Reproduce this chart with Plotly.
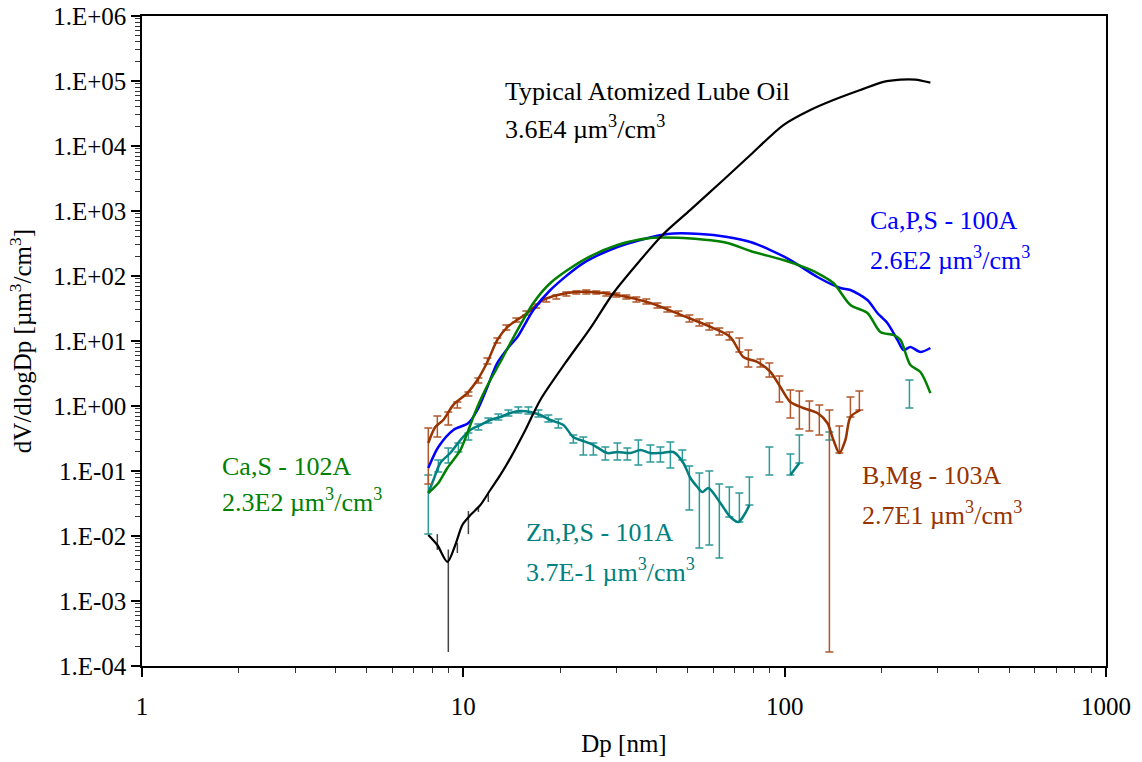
import math
import plotly.graph_objects as go

# ---- Typical atomized lube oil (black) ----
oil_dp = [7.78, 8.30, 8.92, 9.44, 9.93, 10.52, 11.30, 12.13, 13.04, 14.01, 15.60, 17.36,
          20.77, 24.85, 29.31, 35.56, 41.94, 50.88, 64.42, 78.22, 99.08, 120.2, 141.8,
          172.0, 202.9, 229.2, 255.2, 284.1]
oil_dv = [0.0104, 0.00727, 0.0040, 0.00727, 0.0148, 0.0210, 0.030, 0.051, 0.087, 0.158,
          0.428, 1.24, 4.59, 15.8, 54.8, 176, 443, 1040, 3000, 7270, 21000, 35800, 51000,
          72700, 97000, 105000, 105000, 94200]
oil_err_dp = [8.30, 8.98, 9.58, 10.37, 11.14, 11.96]
oil_err_hi = [0.0107, 0.0062, 0.0078, 0.0242, 0.0279, 0.0459]
oil_err_lo = [0.0061, 0.000164, 0.00548, 0.0107, 0.0234, 0.0334]

# ---- Ca,P,S - 100A (blue) ----
cps_dp = [7.78, 8.36, 9.31, 10.37, 11.06, 11.88, 12.76, 14.01, 14.73, 16.52, 18.66, 23.63,
          30.16, 35.56, 43.15, 54.66, 66.33, 78.22, 90.27, 104.2, 126.4, 149.1, 160.2,
          180.9, 194.3, 208.7, 224.3, 234.2, 246.2, 264.5, 284.1]
cps_dv = [0.111, 0.234, 0.428, 0.548, 0.868, 1.96, 4.59, 8.68, 11.5, 30.0, 60.9, 158,
          279, 358, 443, 443, 398, 334, 251, 176, 96.6, 65.3, 60.9, 42.8, 27.0, 18.9,
          10.4, 7.27, 8.09, 6.77, 7.80]

# ---- Ca,S - 102A (green) ----
cs_dp = [7.78, 8.36, 8.92, 9.79, 10.29, 10.74, 11.30, 12.13, 13.04, 14.01, 16.52, 18.66,
         23.63, 30.16, 38.20, 48.39, 57.47, 66.33, 78.22, 99.08, 114.3, 126.4, 141.8,
         160.2, 180.9, 198.5, 217.9, 229.2, 246.2, 264.5, 284.1]
cs_dv = [0.0459, 0.0654, 0.111, 0.210, 0.384, 0.677, 1.24, 2.51, 4.75, 9.32, 38.4, 78.0,
         176, 300, 384, 384, 358, 322, 243, 176, 138, 111, 78.0, 35.8, 27.0, 13.8, 12.4,
         10.4, 4.27, 3.34, 1.58]

# ---- B,Mg - 103A (brown) ----
bmg_dp = [7.78, 8.18, 8.66, 9.31, 10.29, 11.06, 11.88, 12.76, 13.71, 15.83, 17.75, 21.07,
          24.85, 30.16, 38.20, 48.39, 59.98, 67.77, 74.39, 82.25, 90.27, 96.96, 104.2,
          114.3, 126.4, 135.8, 141.8, 148.0, 154.5, 160.2, 172.0]
bmg_dv = [0.270, 0.475, 0.609, 1.04, 1.58, 2.51, 4.75, 10.4, 16.4, 27.0, 42.8, 54.8, 56.8,
          51.0, 38.4, 24.3, 15.8, 11.5, 5.67, 4.75, 3.34, 1.96, 1.15, 0.932, 0.780, 0.548,
          0.300, 0.189, 0.300, 0.677, 0.868]
bmg_err_dp = [7.78, 8.30, 8.98, 9.58, 10.37, 11.14, 11.88, 12.76, 13.61, 14.62, 15.71,
              16.87, 18.13, 19.47, 20.92, 22.47, 24.14, 25.93, 27.86, 29.94, 32.16, 34.55,
              37.12, 40.17, 43.15, 46.69, 50.52, 54.27, 58.29, 62.62, 67.28, 72.28, 77.10,
              84.03, 89.62, 96.28, 104.2, 111.1, 119.4, 128.2, 137.8, 148.0, 160.2, 170.8]
bmg_err_hi = [0.459, 0.702, 0.809, 1.15, 1.64, 2.70, 5.48, 11.1, 17.6, 22.6, 28.9, 37.1,
              45.9, 51.0, 56.7, 58.8, 60.9, 58.8, 56.7, 54.8, 51.0, 47.5, 44.3, 38.4, 33.4,
              28.9, 25.1, 21.8, 18.9, 15.8, 13.8, 11.1, 7.27, 5.28, 4.59, 2.89, 1.76, 1.70,
              1.19, 1.04, 0.868, 0.493, 1.38, 1.70]
bmg_err_lo = [0.0631, 0.334, 0.510, 0.932, 1.42, 2.26, 4.43, 9.32, 14.8, 19.6, 25.1, 32.2,
              39.8, 44.3, 49.2, 52.9, 52.9, 52.9, 49.2, 47.5, 44.3, 39.8, 37.1, 32.2, 27.9,
              24.3, 19.6, 17.0, 14.8, 12.4, 10.4, 6.77, 3.98, 3.98, 2.79, 1.15, 0.654, 0.443,
              0.413, 0.358, 0.000164, 0.189, 0.677, 0.868]

# ---- Zn,P,S - 101A (teal) ----
zn_dp = [7.78, 8.07, 8.48, 9.11, 9.79, 10.52, 11.30, 12.13, 13.04, 14.01, 15.05, 16.17,
         17.36, 18.66, 20.48, 22.00, 23.13, 25.39, 28.07, 30.16, 33.10, 35.56, 38.20, 41.05,
         45.04, 48.39, 50.88, 53.50, 55.45, 57.88, 63.08, 67.77, 71.77, 75.46, 77.66,
         None, 104.2, 111.1]
zn_dv = [0.0459, 0.0727, 0.133, 0.189, 0.300, 0.428, 0.510, 0.609, 0.677, 0.780, 0.838,
         0.809, 0.727, 0.609, 0.510, 0.330, 0.300, 0.251, 0.189, 0.196, 0.189, 0.210, 0.189,
         0.189, 0.196, 0.133, 0.078, 0.0568, 0.0475, 0.0548, 0.0322, 0.0196, 0.0164,
         0.0226, 0.0300, None, 0.0868, 0.133]
zn_err_dp = [7.78, 8.36, 8.98, 9.65, 10.37, 11.14, 11.96, 12.85, 13.81, 14.83, 15.94, 17.12,
             18.39, 19.75, 22.00, 23.63, 25.39, 27.67, 30.16, 32.39, 35.05, 38.20, 41.05,
             44.09, 48.04, 50.52, 54.27, 58.29, 62.62, 67.28, 72.28, 77.66, 89.62, 104.2,
             111.1, 137.8, 244.5]
zn_err_hi = [0.0868, 0.148, 0.226, 0.270, 0.384, 0.529, 0.654, 0.753, 0.868, 0.966, 0.966,
             0.868, 0.727, 0.631, 0.358, 0.334, 0.270, 0.234, 0.270, 0.226, 0.300, 0.251,
             0.234, 0.279, 0.210, 0.119, 0.0931, 0.100, 0.0631, 0.0568, 0.0459, 0.0809,
             0.234, 0.183, 0.358, 0.398, 2.51]
zn_err_lo = [0.0107, 0.0965, 0.133, 0.196, 0.300, 0.428, 0.548, 0.609, 0.702, 0.780, 0.753,
             0.677, 0.567, 0.459, 0.270, 0.176, 0.176, 0.148, 0.148, 0.148, 0.124, 0.138,
             0.138, 0.111, 0.148, 0.0251, 0.00654, 0.00727, 0.00459, 0.0196, 0.0164, 0.0300,
             0.0868, 0.0868, 0.133, 0.300, 0.932]

y_tick_vals = [1e-4, 1e-3, 1e-2, 1e-1, 1e0, 1e1, 1e2, 1e3, 1e4, 1e5, 1e6]
y_tick_text = ["1.E-04", "1.E-03", "1.E-02", "1.E-01", "1.E+00", "1.E+01", "1.E+02",
               "1.E+03", "1.E+04", "1.E+05", "1.E+06"]
x_tick_vals = [1, 10, 100, 1000]
x_tick_text = ["1", "10", "100", "1000"]

FONT = "Liberation Serif, Times New Roman, serif"
BLUE, GREEN, BROWN, TEAL = "#0000FF", "#008000", "#993300", "#008080"


def error_bars(dp, lo, hi, color, cap, thick):
    """Invisible points at the geometric middle of each range, with bars out to lo/hi."""
    mid = [math.sqrt(a * b) for a, b in zip(lo, hi)]
    return go.Scatter(
        x=dp, y=mid, mode="markers",
        marker=dict(size=2, opacity=0),
        error_y=dict(type="data", symmetric=False,
                     array=[h - m for h, m in zip(hi, mid)],
                     arrayminus=[m - l for m, l in zip(mid, lo)],
                     color=color, thickness=thick, width=cap),
        hoverinfo="skip", showlegend=False)


def curve(dp, dv, color, width):
    return go.Scatter(x=dp, y=dv, mode="lines", line=dict(color=color, width=width,
                      shape="spline", smoothing=0.8), connectgaps=False, showlegend=False)


fig = go.Figure()
fig.add_trace(error_bars(zn_err_dp, zn_err_lo, zn_err_hi, "#2E9A9A", 4, 1.5))
fig.add_trace(curve(zn_dp, zn_dv, TEAL, 2.5))
fig.add_trace(error_bars(bmg_err_dp, bmg_err_lo, bmg_err_hi, "#B0582C", 4, 1.5))
fig.add_trace(curve(bmg_dp, bmg_dv, BROWN, 2.5))
fig.add_trace(curve(cps_dp, cps_dv, BLUE, 2.5))
fig.add_trace(curve(cs_dp, cs_dv, GREEN, 2.5))
fig.add_trace(error_bars(oil_err_dp, oil_err_lo, oil_err_hi, "#444444", 0, 1.5))
fig.add_trace(curve(oil_dp, oil_dv, "black", 2.2))

L, R, T, B = 142, 1106, 16, 666
W, H = 1142, 762


def px(xp):
    return (xp - L) / (R - L)


def py(yp):
    return (B - yp) / (B - T)


UNIT = " µm<sup>3</sup>/cm<sup>3</sup>"
labels = [
    ("Typical Atomized Lube Oil", 503, 92, "black"),
    ("3.6E4" + UNIT, 503, 128, "black"),
    ("Ca,P,S - 100A", 868, 220, BLUE),
    ("2.6E2" + UNIT, 868, 258, BLUE),
    ("Ca,S - 102A", 220, 466, GREEN),
    ("2.3E2" + UNIT, 220, 500, GREEN),
    ("Zn,P,S - 101A", 524, 532, TEAL),
    ("3.7E-1" + UNIT, 524, 570, TEAL),
    ("B,Mg - 103A", 860, 475, BROWN),
    ("2.7E1" + UNIT, 860, 513, BROWN),
]
annotations = [dict(text=t, x=px(x), y=py(y), xref="paper", yref="paper",
                    xanchor="left", yanchor="middle", showarrow=False,
                    font=dict(family=FONT, size=26, color=c)) for t, x, y, c in labels]

minor_x = [m * 10 ** e for e in range(0, 3) for m in range(2, 10)]
minor_y = [m * 10.0 ** e for e in range(-4, 6) for m in range(2, 10)]

fig.update_layout(
    width=W, height=H,
    margin=dict(l=L, r=W - R, t=T, b=H - B, autoexpand=False),
    paper_bgcolor="white", plot_bgcolor="white",
    font=dict(family=FONT, size=25, color="black"),
    annotations=annotations,
    showlegend=False,
    xaxis=dict(type="log", range=[0, 3], tickmode="array", tickvals=x_tick_vals,
               ticktext=x_tick_text, ticks="outside", ticklen=9, tickwidth=1.5,
               tickcolor="black", showline=True, linecolor="black", linewidth=1.5,
               mirror=True, showgrid=False, zeroline=False, ticklabelstandoff=8,
               automargin=False,
               minor=dict(tickmode="array", tickvals=minor_x, ticks="outside",
                          ticklen=5, tickwidth=1, tickcolor="#333", showgrid=False),
               title=dict(text="Dp [nm]", standoff=16,
                          font=dict(family=FONT, size=25))),
    yaxis=dict(type="log", range=[-4, 6], tickmode="array", tickvals=y_tick_vals,
               ticktext=y_tick_text, ticks="outside", ticklen=9, tickwidth=1.5,
               tickcolor="black", showline=True, linecolor="black", linewidth=1.5,
               mirror=True, showgrid=False, zeroline=False, automargin=False,
               minor=dict(tickmode="array", tickvals=minor_y, ticks="outside",
                          ticklen=5, tickwidth=1, tickcolor="#333", showgrid=False),
               title=dict(text="dV/dlogDp [µm<sup>3</sup>/cm<sup>3</sup>]", standoff=14,
                          font=dict(family=FONT, size=25))),
)

fig.write_html("out.html")
